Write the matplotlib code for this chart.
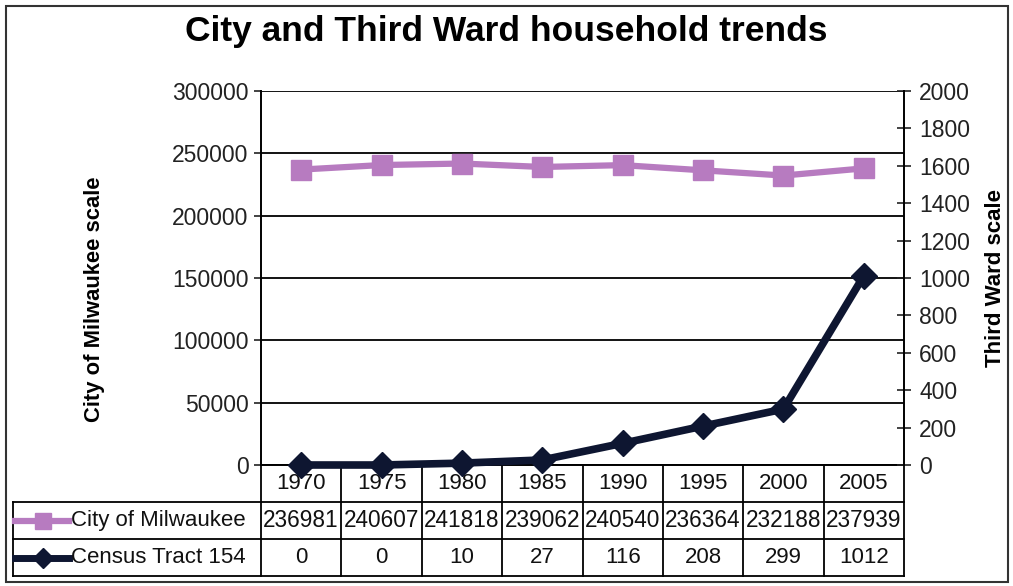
import matplotlib
matplotlib.use("Agg")
import matplotlib.pyplot as plt
from matplotlib.lines import Line2D
from matplotlib.patches import Rectangle
import matplotlib.transforms as mtransforms

plt.rcParams['font.family'] = ['Liberation Sans', 'DejaVu Sans']

years = ["1970", "1975", "1980", "1985", "1990", "1995", "2000", "2005"]
city_name = "City of Milwaukee"
tract_name = "Census Tract 154"
city_values = [236981, 240607, 241818, 239062, 240540, 236364, 232188, 237939]
tract_values = [0, 0, 10, 27, 116, 208, 299, 1012]
left_ticks = [0, 50000, 100000, 150000, 200000, 250000, 300000]
right_ticks = [0, 200, 400, 600, 800, 1000, 1200, 1400, 1600, 1800, 2000]

PINK = '#B77BC0'
NAVY = '#0E1631'

W, H = 1013, 586
fig = plt.figure(figsize=(W / 100, H / 100), dpi=100)
ax_l, ax_r, ax_t, ax_b = 261, 904, 91, 465
ax = fig.add_axes([ax_l / W, 1 - ax_b / H, (ax_r - ax_l) / W, (ax_b - ax_t) / H])

x = list(range(len(years)))
ax.set_xlim(-0.5, len(years) - 0.5)
ax.set_ylim(0, 300000)
ax.set_yticks(left_ticks)
ax.set_yticklabels([str(v) for v in left_ticks], fontsize=16.5)
ax.set_xticks([])
ax.tick_params(axis='y', direction='out', length=5, width=1.2, pad=4, colors='#222222')
ax.yaxis.grid(True, color='black', lw=1.3)
ax.set_axisbelow(True)
for s in ['top', 'right']:
    ax.spines[s].set_visible(False)
for s in ['left', 'bottom']:
    ax.spines[s].set_linewidth(1.4)
    ax.spines[s].set_color('black')

ax.plot(x, city_values, color=PINK, lw=4.5, marker='s', ms=14, clip_on=False, zorder=3)

ax2 = ax.twinx()
ax2.set_ylim(0, 2000)
ax2.set_yticks(right_ticks)
ax2.set_yticklabels([str(v) for v in right_ticks], fontsize=16.5)
ax2.tick_params(axis='y', direction='inout', length=10, width=1.2, pad=6, colors='#222222')
for s in ['top', 'left', 'bottom']:
    ax2.spines[s].set_visible(False)
ax2.spines['right'].set_linewidth(1.4)
ax2.spines['right'].set_color('black')
ax2.plot(x, tract_values, color=NAVY, lw=5.5, marker='D', ms=13, clip_on=False, zorder=3)

ax.set_ylabel("City of Milwaukee scale", fontsize=15.8, fontweight='bold')
ax.yaxis.set_label_coords(-0.243, 0.444)
ax2.set_ylabel("Third Ward scale", fontsize=16, fontweight='bold')
ax2.yaxis.set_label_coords(1.126, 0.5)

fig.text(0.5, 1 - 32 / H, "City and Third Ward household trends", ha='center', va='center',
         fontsize=25.5, fontweight='bold')

# ---- data table below the plot ----
ah = ax_b - ax_t
def ay(py):
    return -(py - ax_b) / ah

blend = mtransforms.blended_transform_factory(ax.transData, ax.transAxes)
ta = ax.transAxes
lab_left = (13 - ax_l) / (ax_r - ax_l)
rows = [ay(465), ay(502), ay(539), ay(576)]
lc = 'black'
lw = 1.3

for i in range(len(years) + 1):
    ax.add_line(Line2D([i - 0.5, i - 0.5], [rows[0], rows[3]], transform=blend, color=lc, lw=lw, clip_on=False))
for yy in rows[1:]:
    ax.add_line(Line2D([lab_left, 1], [yy, yy], transform=ta, color=lc, lw=lw, clip_on=False))
ax.add_line(Line2D([lab_left, lab_left], [rows[1], rows[3]], transform=ta, color=lc, lw=lw, clip_on=False))

for i, yr in enumerate(years):
    ax.text(i, (rows[0] + rows[1]) / 2, yr, transform=blend, ha='center', va='center', fontsize=16, color='#111111')
    ax.text(i, (rows[1] + rows[2]) / 2, str(city_values[i]), transform=blend, ha='center', va='center', fontsize=16.3, color='#111111')
    ax.text(i, (rows[2] + rows[3]) / 2, str(tract_values[i]), transform=blend, ha='center', va='center', fontsize=16, color='#111111')

def axx(px):
    return (px - ax_l) / (ax_r - ax_l)

y2 = (rows[1] + rows[2]) / 2
y3 = (rows[2] + rows[3]) / 2
ax.add_line(Line2D([axx(15), axx(69)], [y2, y2], transform=ta, color=PINK, lw=4.5, clip_on=False))
ax.add_line(Line2D([axx(43)], [y2], transform=ta, color=PINK, marker='s', ms=12, clip_on=False))
ax.add_line(Line2D([axx(15), axx(69)], [y3, y3], transform=ta, color=NAVY, lw=5, clip_on=False))
ax.add_line(Line2D([axx(43)], [y3], transform=ta, color=NAVY, marker='D', ms=10, clip_on=False))
ax.text(axx(71), y2, city_name, transform=ta, ha='left', va='center', fontsize=16, color='#111111')
ax.text(axx(71), y3, tract_name, transform=ta, ha='left', va='center', fontsize=16, color='#111111')

fig.patches.append(Rectangle((6 / W, 1 - 582 / H), (1008 - 6) / W, (582 - 6) / H,
                             transform=fig.transFigure, fill=False, ec='#333333', lw=1.5))

fig.savefig("out.png", dpi=100)
